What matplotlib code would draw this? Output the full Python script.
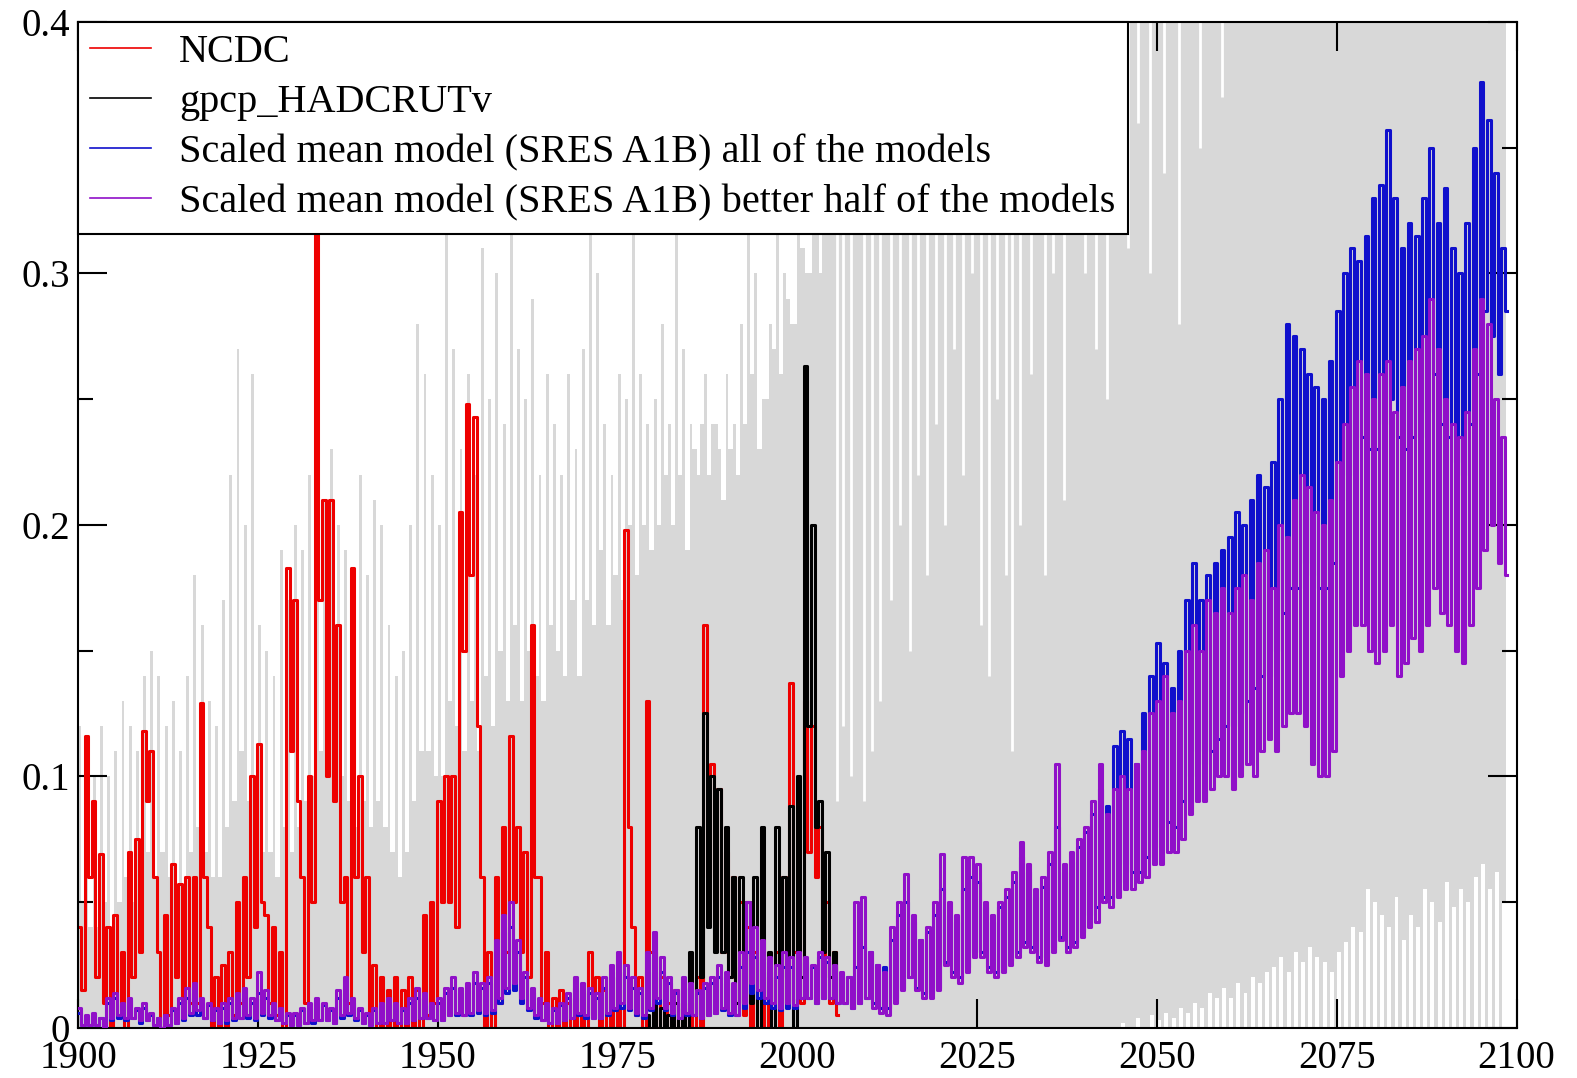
import numpy as np
import matplotlib
matplotlib.use('Agg')
import matplotlib.pyplot as plt
from matplotlib.ticker import MultipleLocator, FuncFormatter

# ---- data: one peak and one trough value per year ----
model_years = np.arange(1900, 2099)

blue_hi = [
    .006, .004, .005, .004, .010, .012, .009, .011, .007, .008,
    .005, .004, .005, .007, .010, .012, .014, .010, .009, .007,
    .008, .010, .012, .012, .010, .014, .012, .009, .007, .005,
    .005, .007, .008, .010, .009, .007, .012, .014, .010, .007,
    .005, .007, .009, .010, .009, .007, .010, .012, .012, .009,
    .010, .014, .016, .014, .015, .018, .016, .018, .030, .038,
    .040, .030, .020, .014, .010, .009, .007, .009, .012, .016,
    .015, .014, .012, .016, .020, .022, .020, .016, .014, .022,
    .028, .022, .018, .014, .016, .016, .014, .016, .018, .020,
    .018, .016, .024, .030, .028, .026, .022, .020, .024, .024,
    .028, .026, .024, .028, .026, .024, .020, .020, .024, .032,
    .030, .025, .024, .035, .045, .050, .042, .035, .038, .045,
    .055, .045, .042, .055, .060, .058, .048, .042, .048, .052,
    .058, .068, .062, .052, .056, .065, .080, .062, .066, .072,
    .078, .085, .095, .088, .112, .118, .115, .105, .125, .140,
    .153, .145, .135, .150, .170, .185, .170, .180, .185, .190,
    .195, .205, .200, .210, .220, .215, .225, .250, .280, .275,
    .270, .260, .255, .250, .265, .285, .300, .310, .305, .315,
    .330, .335, .357, .330, .310, .320, .315, .330, .350, .320,
    .334, .310, .300, .320, .350, .376, .361, .340, .310]
blue_lo = [
    .001, .001, .001, .000, .003, .004, .003, .004, .002, .003,
    .001, .000, .001, .002, .003, .005, .005, .004, .003, .002,
    .002, .003, .004, .004, .003, .005, .004, .003, .002, .001,
    .001, .002, .002, .003, .003, .002, .004, .005, .003, .002,
    .001, .002, .002, .003, .002, .002, .003, .004, .004, .003,
    .003, .005, .005, .005, .005, .006, .005, .006, .010, .014,
    .015, .010, .007, .004, .003, .002, .002, .003, .004, .005,
    .004, .004, .004, .005, .007, .008, .007, .005, .004, .007,
    .010, .007, .005, .004, .005, .005, .004, .005, .006, .007,
    .005, .005, .008, .014, .012, .010, .008, .007, .008, .008,
    .012, .012, .010, .012, .012, .010, .010, .008, .010, .012,
    .010, .008, .008, .012, .016, .020, .016, .014, .014, .016,
    .026, .022, .020, .024, .030, .030, .024, .022, .024, .027,
    .030, .034, .032, .028, .028, .032, .036, .032, .034, .038,
    .045, .048, .052, .052, .058, .065, .062, .062, .068, .072,
    .080, .082, .080, .090, .100, .110, .105, .110, .115, .120,
    .120, .125, .130, .135, .140, .140, .150, .165, .175, .175,
    .185, .180, .175, .175, .185, .210, .220, .230, .235, .230,
    .230, .240, .250, .235, .230, .235, .235, .245, .260, .240,
    .235, .225, .220, .240, .260, .285, .275, .260, .285]

purple_hi = [
    .008, .005, .006, .004, .012, .014, .010, .012, .008, .010,
    .006, .004, .005, .008, .012, .016, .018, .012, .010, .008,
    .010, .012, .014, .016, .012, .022, .015, .010, .008, .006,
    .006, .008, .010, .012, .010, .008, .015, .020, .012, .008,
    .006, .008, .010, .012, .010, .008, .012, .016, .014, .010,
    .012, .016, .020, .016, .018, .022, .018, .020, .035, .045,
    .050, .035, .022, .016, .012, .010, .008, .010, .014, .020,
    .018, .016, .014, .020, .025, .030, .025, .020, .016, .030,
    .038, .028, .020, .015, .020, .018, .015, .018, .020, .025,
    .022, .018, .030, .050, .040, .035, .028, .025, .030, .028,
    .030, .028, .025, .030, .028, .025, .022, .020, .050, .052,
    .030, .025, .022, .040, .050, .061, .045, .035, .040, .050,
    .069, .050, .045, .068, .068, .065, .050, .045, .050, .055,
    .062, .074, .065, .055, .060, .070, .105, .065, .070, .075,
    .080, .090, .105, .085, .095, .100, .095, .105, .110, .125,
    .130, .140, .125, .130, .150, .160, .150, .170, .165, .175,
    .165, .175, .180, .170, .185, .190, .175, .200, .195, .210,
    .220, .215, .205, .200, .210, .225, .240, .255, .265, .260,
    .250, .260, .265, .245, .255, .265, .270, .275, .290, .270,
    .250, .240, .235, .245, .270, .290, .280, .250, .235]
purple_lo = [
    .001, .001, .001, .000, .004, .005, .004, .004, .003, .003,
    .001, .000, .001, .002, .004, .006, .007, .004, .003, .002,
    .003, .004, .004, .005, .004, .006, .005, .003, .002, .001,
    .001, .002, .003, .003, .003, .002, .005, .006, .004, .002,
    .001, .002, .002, .003, .002, .002, .003, .004, .004, .003,
    .003, .005, .006, .005, .006, .007, .006, .007, .012, .016,
    .018, .012, .008, .005, .003, .002, .002, .003, .004, .006,
    .005, .004, .004, .006, .008, .010, .008, .006, .005, .008,
    .012, .008, .006, .004, .006, .005, .004, .005, .006, .008,
    .006, .005, .010, .018, .015, .012, .010, .008, .010, .009,
    .012, .012, .010, .012, .012, .010, .010, .008, .010, .012,
    .008, .006, .005, .010, .015, .020, .015, .012, .012, .015,
    .025, .020, .018, .022, .028, .028, .022, .020, .022, .025,
    .028, .032, .030, .026, .025, .030, .035, .030, .032, .036,
    .040, .042, .050, .048, .052, .055, .055, .058, .060, .065,
    .065, .070, .070, .075, .085, .090, .090, .095, .100, .100,
    .095, .100, .105, .100, .110, .115, .110, .120, .125, .125,
    .120, .105, .100, .100, .110, .140, .150, .160, .160, .150,
    .145, .150, .160, .140, .145, .155, .150, .160, .175, .165,
    .160, .150, .145, .160, .175, .190, .200, .185, .180]

ncdc_years = np.arange(1900, 2006)
ncdc_hi = [
    .040, .116, .090, .069, .040, .045, .030, .070, .075, .118,
    .110, .030, .045, .065, .057, .060, .060, .129, .040, .020,
    .025, .030, .050, .060, .100, .113, .045, .040, .030, .183,
    .170, .060, .100, .317, .210, .210, .160, .060, .183, .100,
    .060, .025, .020, .015, .020, .015, .020, .015, .045, .050,
    .090, .100, .100, .205, .248, .243, .060, .030, .060, .080,
    .116, .080, .070, .160, .060, .030, .012, .015, .010, .012,
    .015, .030, .020, .015, .020, .015, .198, .040, .020, .130,
    .030, .020, .010, .015, .010, .010, .020, .160, .105, .095,
    .070, .060, .050, .040, .030, .015, .020, .030, .060, .137,
    .050, .130, .120, .080, .050, .030]
ncdc_lo = [
    .015, .060, .020, .010, .000, .005, .000, .020, .030, .090,
    .060, .000, .005, .020, .010, .010, .010, .060, .000, .000,
    .000, .005, .010, .020, .040, .050, .010, .005, .000, .110,
    .090, .010, .050, .170, .100, .090, .050, .010, .060, .030,
    .005, .000, .000, .000, .000, .000, .000, .000, .005, .010,
    .050, .050, .040, .150, .180, .120, .000, .000, .010, .030,
    .050, .030, .020, .060, .010, .000, .000, .000, .000, .000,
    .000, .005, .000, .000, .000, .000, .080, .005, .000, .030,
    .000, .000, .000, .000, .000, .000, .000, .060, .040, .030,
    .020, .010, .005, .000, .000, .000, .000, .000, .010, .030,
    .010, .070, .060, .020, .010, .005]

had_years = np.arange(1979, 2006)
had_hi = [.005, .010, .008, .005, .010, .008, .030, .080, .125, .100,
          .095, .080, .060, .060, .050, .060, .080, .030, .080, .060,
          .088, .100, .263, .200, .090, .070, .030]
had_lo = [.000, .000, .000, .000, .000, .000, .005, .020, .040, .030,
          .030, .020, .010, .010, .010, .000, .010, .000, .020, .010,
          .000, .020, .120, .080, .030, .020, .010]

# grey model spread: yearly spike top and solid part, 1900-2009
grey_years = np.arange(1900, 2010)
grey_peak = [
    .12, .11, .10, .12, .10, .11, .13, .12, .11, .14,
    .15, .14, .12, .13, .11, .14, .18, .16, .13, .12,
    .17, .22, .27, .20, .26, .16, .15, .14, .19, .17,
    .20, .19, .22, .25, .21, .23, .20, .19, .16, .22,
    .18, .21, .20, .16, .14, .15, .20, .28, .26, .22,
    .20, .32, .27, .23, .26, .22, .31, .25, .30, .24,
    .36, .27, .25, .29, .22, .26, .24, .22, .26, .23,
    .27, .34, .30, .24, .22, .26, .25, .36, .26, .24,
    .25, .28, .24, .34, .27, .24, .22, .26, .24, .23,
    .26, .24, .28, .34, .30, .25, .28, .35, .30, .28,
    .32, .30, .33, .30, .36, .40, .40, .40, .40, .40]
grey_dense = [
    .05, .04, .04, .05, .04, .05, .06, .05, .06, .07,
    .06, .07, .06, .05, .05, .07, .08, .07, .06, .06,
    .08, .09, .11, .09, .10, .07, .07, .06, .08, .07,
    .08, .09, .10, .11, .10, .11, .10, .09, .08, .09,
    .08, .09, .08, .07, .06, .07, .09, .11, .11, .10,
    .10, .13, .12, .11, .13, .11, .14, .12, .15, .13,
    .16, .13, .15, .14, .13, .16, .15, .14, .17, .14,
    .17, .16, .19, .16, .18, .17, .20, .18, .20, .19,
    .20, .22, .20, .22, .19, .23, .24, .22, .24, .21,
    .23, .22, .24, .26, .23, .25, .27, .26, .29, .28,
    .31, .30, .33, .34, .32, .36, .40, .40, .40, .40]
# white gaps reaching down from the top in the filled part
gap_year = [2005.5, 2006.3, 2007.5, 2009.2, 2010.4, 2011.5, 2013.0, 2014.2, 2015.6, 2016.8,
            2018.0, 2019.3, 2020.5, 2021.7, 2023.0, 2024.2, 2025.5, 2026.6, 2027.8, 2029.0,
            2029.8, 2031.0, 2032.5, 2034.4, 2035.5, 2037.0, 2038.5, 2040.0, 2041.5, 2043.0,
            2044.5, 2046.0, 2047.3, 2049.0, 2051.0, 2053.0, 2056.0, 2059.0]
gap_bottom = [.09, .12, .10, .09, .11, .13, .17, .20, .15, .22,
              .18, .24, .20, .27, .22, .30, .16, .14, .25, .18,
              .11, .20, .26, .18, .30, .21, .33, .30, .27, .25,
              .35, .31, .36, .30, .34, .28, .35, .37]
# white area under the spread, 2044-2098
floor_years = np.arange(2044, 2099)
grey_floor = [
    .000, .002, .000, .004, .000, .005, .003, .006, .004, .008,
    .006, .010, .008, .014, .012, .016, .012, .018, .014, .020,
    .018, .022, .024, .028, .022, .030, .026, .032, .028, .026,
    .022, .030, .034, .040, .038, .055, .050, .045, .040, .052,
    .035, .045, .040, .055, .050, .042, .058, .048, .055, .050,
    .060, .065, .055, .062, .050]

labels = ['NCDC', 'gpcp_HADCRUTv',
          'Scaled mean model (SRES A1B) all of the models',
          'Scaled mean model (SRES A1B) better half of the models']

plt.rcParams['font.family'] = ['Liberation Serif', 'DejaVu Serif']

fig = plt.figure(figsize=(15.77, 10.78), dpi=100)
ax = fig.add_axes([0.0497, 0.0466, 0.912, 0.933])
grey = '#d8d8d8'


def spiky(years, hi, lo, **kw):
    # one peak and one trough per year, drawn as steps
    x = np.column_stack([years + 0.15, years + 0.6]).ravel()
    y = np.column_stack([hi, lo]).ravel()
    return ax.plot(x, y, drawstyle='steps-mid', **kw)[0]


# grey ensemble spread
xg = np.column_stack([grey_years, grey_years + 0.4]).ravel()
yg = np.column_stack([grey_peak, grey_dense]).ravel()
ax.fill_between(np.append(xg, 2010), 0, np.append(yg, 0.4), step='post', color=grey, lw=0, zorder=1)
ax.fill_between([2010, 2098.5], 0, 0.4, color=grey, lw=0, zorder=1)
ax.vlines(gap_year, gap_bottom, 0.4, color='white', lw=2, zorder=1.1)
ax.bar(floor_years + 0.3, grey_floor, width=0.55, color='white', lw=0, zorder=1.1)

h1 = spiky(ncdc_years, ncdc_hi, ncdc_lo, color='#ee0000', lw=2.2, zorder=2)
h2 = spiky(had_years, had_hi, had_lo, color='black', lw=2.2, zorder=3)
h3 = spiky(model_years, blue_hi, blue_lo, color='#1010cc', lw=2.2, zorder=4)
h4 = spiky(model_years, purple_hi, purple_lo, color='#9010c8', lw=2.2, zorder=5)

ax.set_xlim(1900, 2100)
ax.set_ylim(0, 0.4)
ax.xaxis.set_major_locator(MultipleLocator(25))
ax.yaxis.set_major_locator(MultipleLocator(0.1))
ax.yaxis.set_minor_locator(MultipleLocator(0.05))
ax.yaxis.set_major_formatter(FuncFormatter(lambda v, p: '0' if abs(v) < 1e-9 else '%g' % v))
ax.tick_params(which='both', direction='in', top=True, right=True, labelsize=28, width=1.5)
ax.tick_params(which='major', length=21, pad=6)
ax.tick_params(axis='x', which='major', pad=9)
ax.tick_params(which='minor', length=11)
for s in ax.spines.values():
    s.set_linewidth(1.5)

leg = ax.legend([h1, h2, h3, h4], labels, loc='upper left', fontsize=29,
                borderaxespad=0, fancybox=False, edgecolor='black', framealpha=1,
                handlelength=1.5, handletextpad=0.7, labelspacing=0.32, borderpad=0.3)
leg.get_frame().set_linewidth(1.5)
for ln in leg.get_lines():
    ln.set_linewidth(1.2)
leg.set_zorder(10)

fig.savefig('out.png', dpi=100)
